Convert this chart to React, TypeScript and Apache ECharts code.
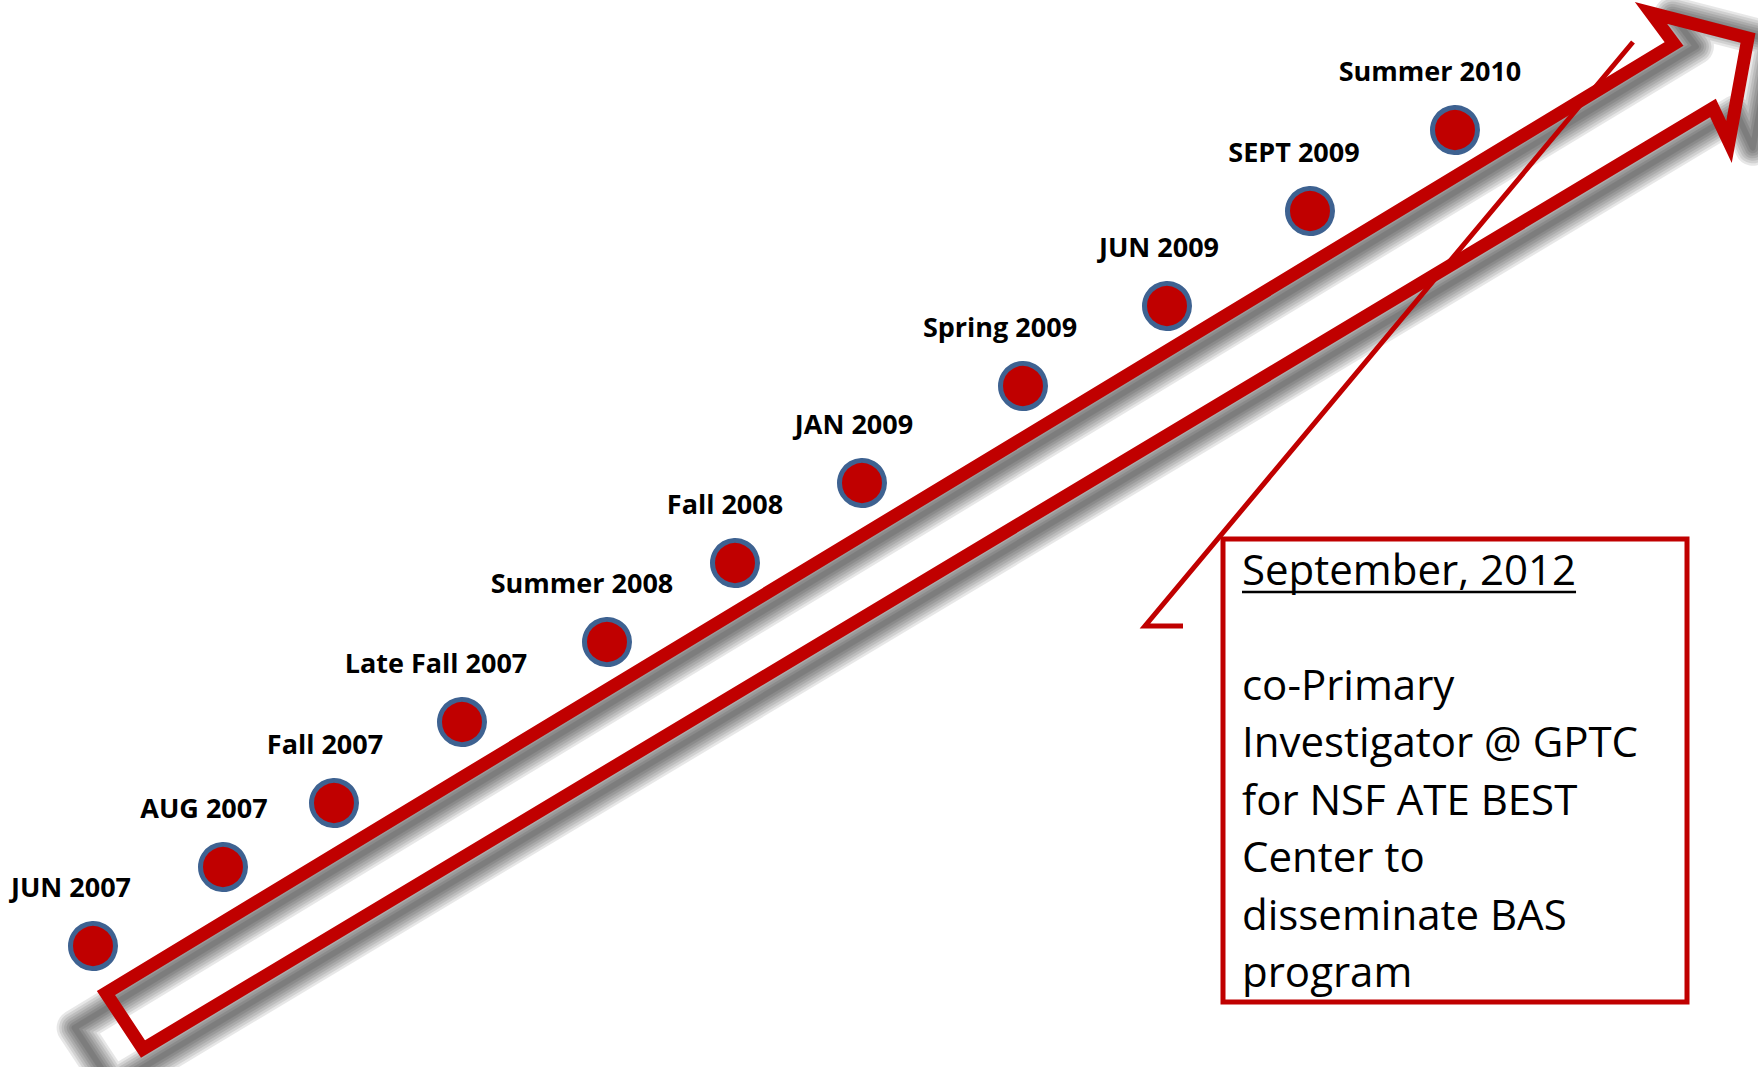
import React, { useEffect, useRef } from "react";
import * as echarts from "echarts";

// Milestones along the timeline
const milestones = [
  "JUN 2007",
  "AUG 2007",
  "Fall 2007",
  "Late Fall 2007",
  "Summer 2008",
  "Fall 2008",
  "JAN 2009",
  "Spring 2009",
  "JUN 2009",
  "SEPT 2009",
  "Summer 2010",
];
// position of each milestone along the timeline (horizontal / vertical axis units)
const milestoneX = [93, 223, 334, 462, 607, 735, 862, 1023, 1167, 1310, 1455];
const milestoneY = [946, 867, 803, 722, 642, 563, 483, 386, 306, 211, 130];

// label horizontal shift relative to each dot (style)
const labelShiftX = [-22, -19, -9, -26, -25, -10, -8, -23, -8, -16, -25];

const calloutTitle = "September, 2012";
const calloutLines = [
  "co-Primary",
  "Investigator @ GPTC",
  "for NSF ATE BEST",
  "Center to",
  "disseminate BAS",
  "program",
];

const W = 1758;
const H = 1067;
const RED = "#C00000";

const arrowPts: number[][] = [
  [106, 993],
  [1674, 44],
  [1651, 13],
  [1748, 38],
  [1729, 142],
  [1713, 108],
  [143, 1049],
];

export default function App() {
  const ref = useRef<HTMLDivElement>(null);

  useEffect(() => {
    document.body.style.margin = "0";
    const el = ref.current!;
    const chart = echarts.init(el, null, { renderer: "svg", width: W, height: H });

    const shadowPts = arrowPts.map(([x, y]) => [x * 1.034 - 35, y * 1.034 + 1]);
    const blurWidths = [36, 31, 26, 21, 16, 11, 6];
    const shadowEls = blurWidths.map((w, i) => ({
      type: "polygon",
      z: 1 + i * 0.01,
      silent: true,
      shape: { points: shadowPts },
      style: { fill: "none", stroke: "rgba(0,0,0,0.095)", lineWidth: w, lineJoin: "round" },
    }));

    // measure title for underline
    let titleW = 331;
    try {
      const cv = document.createElement("canvas").getContext("2d");
      if (cv) {
        cv.font = "42px 'Open Sans'";
        titleW = cv.measureText(calloutTitle).width;
      }
    } catch (e) {}

    const textX = 1242;
    const titleY = 568;
    const lineH = 57.5;
    const font = { fontFamily: "'Open Sans'", fontSize: 42, fill: "#000" };

    const textEls: any[] = [
      {
        type: "text",
        z: 10,
        x: textX,
        y: titleY,
        style: { text: calloutTitle, ...font, verticalAlign: "middle", align: "left" },
      },
      {
        type: "line",
        z: 10,
        shape: { x1: textX, y1: 592, x2: textX + titleW, y2: 592 },
        style: { stroke: "#000", lineWidth: 2.5 },
      },
      ...calloutLines.map((t, i) => ({
        type: "text",
        z: 10,
        x: textX,
        y: titleY + (i + 2) * lineH,
        style: { text: t, ...font, verticalAlign: "middle", align: "left" },
      })),
    ];

    const option: any = {
      animation: false,
      backgroundColor: "#ffffff",
      grid: { left: 0, right: 0, top: 0, bottom: 0 },
      xAxis: { type: "value", min: 0, max: W, show: false },
      yAxis: { type: "value", min: 0, max: H, inverse: true, show: false },
      graphic: {
        elements: [
          ...shadowEls,
          {
            type: "polygon",
            z: 3,
            shape: { points: arrowPts },
            style: { fill: "none", stroke: RED, lineWidth: 13, lineJoin: "miter", miterLimit: 10 },
          },
          {
            type: "polyline",
            z: 4,
            shape: { points: [[1633, 42], [1145, 626], [1183, 626]] },
            style: { stroke: RED, lineWidth: 5, lineJoin: "miter", fill: "none" },
          },
          {
            type: "rect",
            z: 4,
            shape: { x: 1223, y: 539, width: 464, height: 463 },
            style: { fill: "none", stroke: RED, lineWidth: 5 },
          },
          ...textEls,
        ],
      },
      series: [
        {
          type: "scatter",
          z: 20,
          symbol: "circle",
          symbolSize: 45,
          itemStyle: { color: RED, borderColor: "#3E6291", borderWidth: 5, opacity: 1 },
          label: {
            show: true,
            position: "inside",
            formatter: "{b}",
            fontFamily: "'Open Sans'",
            fontWeight: "bold",
            fontSize: 27,
            color: "#000",
          },
          emphasis: { disabled: true },
          data: milestones.map((name, i) => ({
            name,
            value: [milestoneX[i], milestoneY[i]],
            label: { offset: [labelShiftX[i], -60] },
          })),
        },
      ],
    };

    chart.setOption(option);
    return () => chart.dispose();
  }, []);

  return <div ref={ref} style={{ width: W, height: H, background: "#fff" }} />;
}
